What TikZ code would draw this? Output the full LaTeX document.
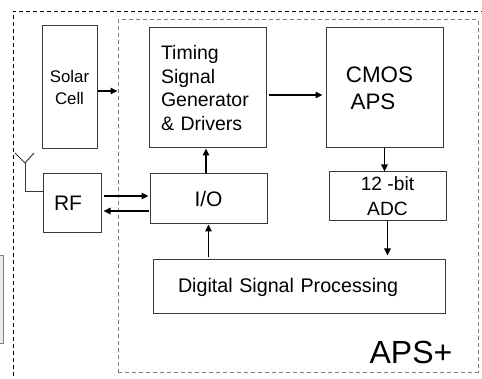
\documentclass[tikz,border=0pt]{standalone}
\usepackage{fontspec}
\setmainfont{Liberation Sans}
\usetikzlibrary{arrows.meta}
\definecolor{boxline}{HTML}{3A3A3A}
\tikzset{
  blk/.style={draw=boxline, line width=1pt, inner sep=0pt, align=center},
  arr/.style={line width=1.5pt, -{Triangle[length=7pt,width=6.5pt]}},
  outerdash/.style={line width=0.9pt, dash pattern=on 4pt off 3pt},
  innerdash/.style={draw=gray, line width=1pt, dash pattern=on 4pt off 3pt},
}
\newcommand{\fsz}[2]{\fontsize{#1pt}{#2pt}\selectfont}
\begin{document}
\begin{tikzpicture}[x=1pt,y=-1pt]
\useasboundingbox (0,0) rectangle (482,379);
\clip (0,0) rectangle (482,379);
% outer dashed frame
\coordinate (obl) at (13,390);
\coordinate (otl) at (13,11);
\coordinate (otr) at (495,11);
\draw[outerdash] (obl) -- (otl) -- (otr);
% gray partial box on the left edge
\node[draw=gray, fill=gray!15, line width=0.8pt, minimum width=20pt, minimum height=88pt, inner sep=0pt] (side) at (-7,299) {};
% inner dashed box APS+
\node[innerdash, minimum width=360pt, minimum height=352pt, inner sep=0pt] (aps) at (298,196) {};
\node[font=\fsz{32}{36}] (apslabel) at (411,352) {APS+};
% blocks
\node[blk, minimum width=55pt, minimum height=123pt, font=\fsz{16.8}{22}] (solar) at (69.5,87.5) {Solar\\Cell};
\node[blk, minimum width=58pt, minimum height=59pt, font=\fsz{21}{24}] (rf) at (72,203.5) {\raisebox{-4.5pt}{\hspace*{-8pt}RF}};
\node[blk, minimum width=117pt, minimum height=120pt, font=\fsz{19.5}{23.5}, align=left, text width=93pt, inner xsep=12pt] (tim) at (207.5,88) {Timing\\Signal\\Generator\\\& Drivers};
\node[blk, minimum width=117pt, minimum height=120pt, font=\fsz{22.4}{27}] (cmos) at (384.5,88) {\hspace*{-10pt}CMOS\\\hspace*{-23pt}APS};
\node[blk, minimum width=117pt, minimum height=50pt, font=\fsz{21}{24}] (io) at (208.5,199) {I/O};
\node[blk, minimum width=117pt, minimum height=49pt, font=\fsz{19.2}{25}] (adc) at (387.5,196.5) {12 -bit\\ADC};
\node[blk, minimum width=292pt, minimum height=54pt, font=\fsz{19.7}{23}, align=left, text width=242pt, inner xsep=25pt] (dsp) at (299,287) {Digital Signal Processing};
% antenna
\coordinate (ant) at (25,163);
\coordinate (antl) at (15,153);
\coordinate (antr) at (34,153);
\draw[line width=1pt, draw=boxline] (antl) -- (ant) -- (antr);
\draw[line width=1pt, draw=boxline] (ant) |- ([yshift=11.5pt]rf.west);
% arrows
\draw[arr] ([yshift=-3.5pt]solar.east) -- ([yshift=-3.5pt]solar.east -| aps.west);
\draw[arr, shorten <=2pt, shorten >=1pt] ([yshift=7.5pt]rf.east) -- ([yshift=7.5pt]rf.east -| io.west);
\draw[arr, shorten <=1pt, shorten >=2pt] ([yshift=-7.5pt]rf.east -| io.west) -- ([yshift=-7.5pt]rf.east);
\draw[arr] ([xshift=-2.5pt]io.north) -- ([xshift=-2.5pt]io.north |- tim.south);
\draw[arr, shorten <=2pt, shorten >=3pt] ([yshift=-7pt]tim.east) -- ([yshift=-7pt]tim.east -| cmos.west);
\draw[arr] (cmos.south) -- (cmos.south |- adc.north);
\draw[arr, shorten >=4pt] (adc.south) -- (adc.south |- dsp.north);
\draw[arr, shorten <=2pt] (io.south |- dsp.north) -- (io.south);
\end{tikzpicture}
\end{document}
